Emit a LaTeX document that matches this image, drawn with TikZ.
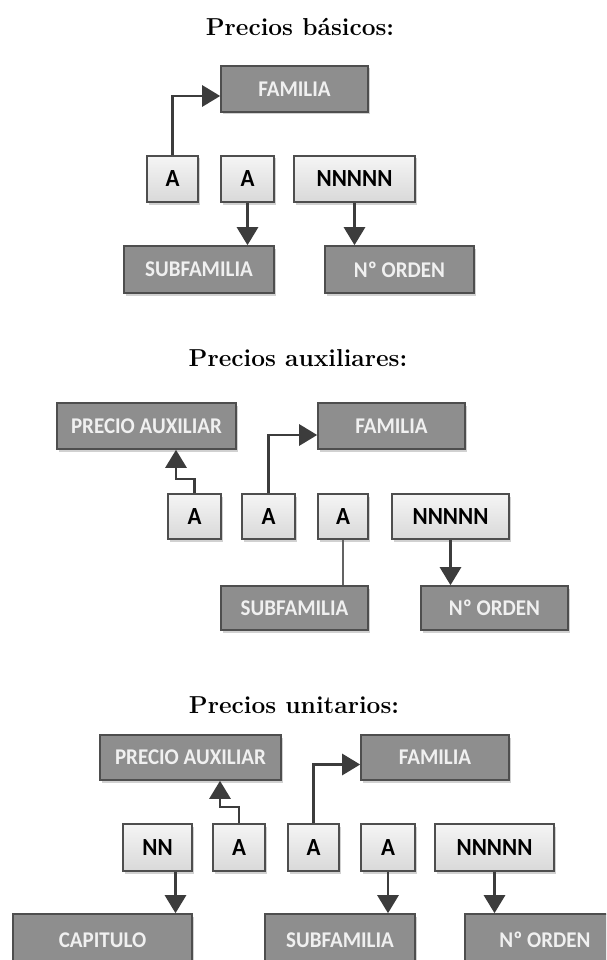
\documentclass[tikz,border=0pt]{standalone}
\usepackage{fontspec}
\newfontfamily\boxfont{Carlito}
\usetikzlibrary{arrows.meta,shadows,calc}
\definecolor{boxdark}{HTML}{8E8E8E}
\definecolor{boxedge}{HTML}{4E4E4E}
\definecolor{boxtext}{HTML}{F0F0F0}
\definecolor{linegray}{HTML}{3C3C3C}
% slightly tall lettering inside the boxes
\newcommand{\tallword}[1]{\scalebox{1}[1.07]{#1}}
\tikzset{
  field/.style={draw=boxedge, line width=1.6pt, inner sep=0pt,
    drop shadow={shadow xshift=2pt, shadow yshift=-2.5pt, fill=black, opacity=0.18}},
  darkbox/.style={field, fill=boxdark, text=boxtext,
    font=\boxfont\bfseries\fontsize{21}{25}\selectfont},
  lightbox/.style={field, top color=white!96!black, bottom color=white!85!black,
    text=black, font=\boxfont\bfseries\fontsize{23}{27}\selectfont},
  heading/.style={font=\bfseries\fontsize{24.5}{28}\selectfont},
  arr/.style={draw=linegray, line width=2.8pt,
    -{Triangle[width=21pt,length=18pt]}},
  plain/.style={draw=linegray!80, line width=1.2pt},
}
\begin{document}
\begin{tikzpicture}[x=1pt,y=-1pt]
\useasboundingbox (0,0) rectangle (606,960);
\clip (0,0) rectangle (606,960);

% --- Precios basicos ---
\node[heading] (t1) at (300,27) {Precios básicos:};
\node[darkbox, minimum width=147pt, minimum height=46pt] (f1) at (294.5,89) {\tallword{FAMILIA}};
\node[lightbox, minimum width=51pt, minimum height=46pt] (a11) at (172.5,179) {\tallword{A}};
\node[lightbox, minimum width=53pt, minimum height=46pt] (a12) at (247.5,179) {\tallword{A}};
\node[lightbox, minimum width=121pt, minimum height=46pt] (n1) at (354.5,179) {\tallword{NNNNN}};
\node[darkbox, minimum width=150pt, minimum height=47pt] (s1) at (199,269.5) {\tallword{SUBFAMILIA}};
\node[darkbox, minimum width=149pt, minimum height=47pt] (o1) at (399.5,269.5) {\tallword{Nº ORDEN}};

\draw[arr] (a11.north) |- ([yshift=-7pt]f1.west);
\draw[arr] (a12.south) -- (a12.south |- s1.north);
\draw[arr] (n1.south) -- (n1.south |- o1.north);

% --- Precios auxiliares ---
\node[heading] (t2) at (298,358) {Precios auxiliares:};
\node[darkbox, minimum width=179pt, minimum height=46pt] (p2) at (146.5,426) {\tallword{PRECIO AUXILIAR}};
\node[darkbox, minimum width=147pt, minimum height=46pt] (f2) at (391.5,426) {\tallword{FAMILIA}};
\node[lightbox, minimum width=53pt, minimum height=45pt] (b21) at (194.5,516.5) {\tallword{A}};
\node[lightbox, minimum width=53pt, minimum height=45pt] (b22) at (268.5,516.5) {\tallword{A}};
\node[lightbox, minimum width=50pt, minimum height=45pt] (b23) at (343,516.5) {\tallword{A}};
\node[lightbox, minimum width=117pt, minimum height=45pt] (n2) at (450.5,516.5) {\tallword{NNNNN}};
\node[darkbox, minimum width=147pt, minimum height=44pt] (s2) at (294.5,608) {\tallword{SUBFAMILIA}};
\node[darkbox, minimum width=147pt, minimum height=44pt] (o2) at (494.5,608) {\tallword{Nº ORDEN}};

\coordinate (k2) at (176,479);
\draw[arr] (b21.north) |- (k2) -- (k2 |- p2.south);
\draw[arr] (b22.north) |- ([yshift=-9pt]f2.west);
\draw[plain] (b23.south) -- (b23.south |- s2.north);
\draw[arr] (n2.south) -- (n2.south |- o2.north);

% --- Precios unitarios ---
\node[heading] (t3) at (294,705) {Precios unitarios:};
\node[darkbox, minimum width=181pt, minimum height=45pt] (p3) at (190.5,757.5) {\tallword{PRECIO AUXILIAR}};
\node[darkbox, minimum width=148pt, minimum height=45pt] (f3) at (435,757.5) {\tallword{FAMILIA}};
\node[lightbox, minimum width=69pt, minimum height=47pt] (nn) at (157.5,847.5) {\tallword{NN}};
\node[lightbox, minimum width=52pt, minimum height=47pt] (c31) at (239,847.5) {\tallword{A}};
\node[lightbox, minimum width=51pt, minimum height=47pt] (c32) at (313.5,847.5) {\tallword{A}};
\node[lightbox, minimum width=54pt, minimum height=47pt] (c33) at (388,847.5) {\tallword{A}};
\node[lightbox, minimum width=119pt, minimum height=47pt] (n3) at (494.5,847.5) {\tallword{NNNNN}};
\node[darkbox, minimum width=179pt, minimum height=52pt] (cap) at (102.5,940) {\tallword{CAPITULO}};
\node[darkbox, minimum width=150pt, minimum height=52pt] (s3) at (340,940) {\tallword{SUBFAMILIA}};
\node[darkbox, minimum width=160pt, minimum height=52pt] (o3) at (545,940) {\tallword{Nº ORDEN}};

\coordinate (k3) at (220,807);
\draw[arr] ([xshift=18pt]nn.south) -- ([xshift=18pt]nn.south |- cap.north);
\draw[arr] (c31.north) |- (k3) -- (k3 |- p3.south);
\draw[arr] (c32.north) |- ([yshift=-7pt]f3.west);
\draw[arr] (c33.south) -- (c33.south |- s3.north);
\draw[arr] (n3.south) -- (n3.south |- o3.north);
\end{tikzpicture}
\end{document}
